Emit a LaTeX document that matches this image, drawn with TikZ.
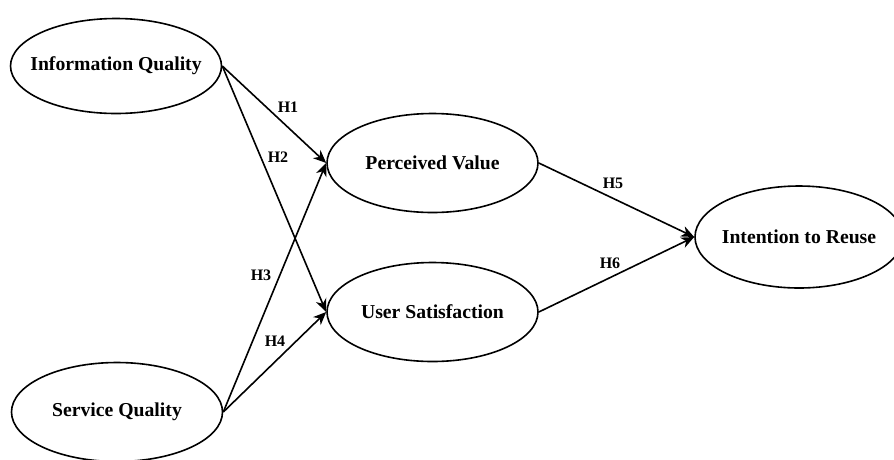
\documentclass[tikz,border=0pt]{standalone}
\usepackage{fontspec}
\setmainfont{Liberation Serif}
\usetikzlibrary{shapes.geometric,arrows.meta}
\tikzset{
  construct/.style={ellipse, draw=black, line width=1.6pt, fill=white, minimum width=211pt, minimum height=99pt, inner xsep=-40pt, inner ysep=0pt, font=\fontsize{19.7}{22}\selectfont\bfseries},
  path/.style={draw=black, line width=1.6pt, -{Stealth[length=13pt, width=11pt, inset=4pt]}},
  lbl/.style={inner sep=0pt, font=\fontsize{16}{18}\selectfont\bfseries}
}
\begin{document}
\begin{tikzpicture}[x=1pt,y=-1pt]
\useasboundingbox (0,0) rectangle (894,459);
\begin{scope}
\clip (0,0) rectangle (894,459);
\node[construct, minimum height=95pt] (iq) at (116,66) {Information Quality};
\node[construct] (sq) at (117,412) {Service Quality};
\node[construct] (pv) at (432.5,163) {Perceived Value};
\node[construct] (us) at (432.5,312) {User Satisfaction};
\node[construct, minimum width=208pt, minimum height=102pt] (ir) at (799,237) {Intention to Reuse};
\draw[path] (iq.east) -- (pv.west);
\draw[path] (iq.east) -- (us.west);
\draw[path] (sq.east) -- (pv.west);
\draw[path] (sq.east) -- (us.west);
\draw[path] (pv.east) -- (ir.west);
\draw[path] (us.east) -- (ir.west);
\end{scope}
\node[lbl] (h1) at (288,107) {H1};
\node[lbl] (h2) at (278,157) {H2};
\node[lbl] (h3) at (261,275) {H3};
\node[lbl] (h4) at (275,341) {H4};
\node[lbl] (h5) at (613,183) {H5};
\node[lbl] (h6) at (610,263) {H6};
\end{tikzpicture}
\end{document}
